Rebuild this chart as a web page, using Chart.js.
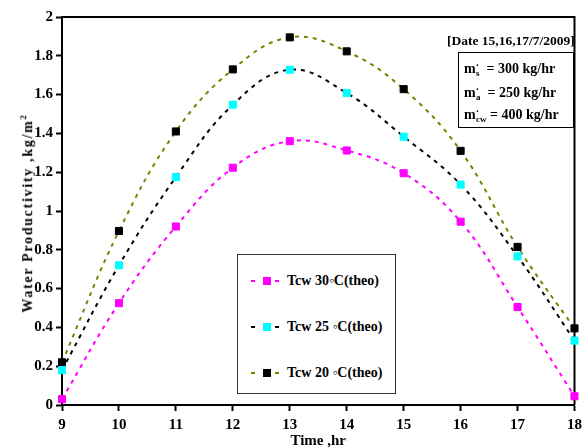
<!DOCTYPE html>
<html>
<head>
<meta charset="utf-8">
<script src="https://cdn.jsdelivr.net/npm/chart.js@4.4.0/dist/chart.umd.min.js"></script>
<style>
body { margin: 0; overflow: hidden; background: #fff; }
#wrap { position: relative; width: 587px; height: 460px; }
.t { position: absolute; font-family: "Liberation Serif", "Times New Roman", serif; font-weight: bold; color: #000; white-space: nowrap; line-height: 1; }
#ytitle { left: 27px; top: 213px; font-size: 14px; letter-spacing: 1.7px; transform: translate(-50%, -50%) rotate(-90deg); }
#ytitle sup { font-size: 9px; }
#legend { position: absolute; left: 237px; top: 254px; width: 159px; height: 140px; border: 1.5px solid #333; box-sizing: border-box; background: #fff; }
.row { position: absolute; left: 0; width: 100%; height: 20px; }
.d { position: absolute; top: 9px; width: 4px; height: 2px; }
.sq { position: absolute; top: 6px; left: 25px; width: 8px; height: 8px; }
.row .t { left: 49px; top: 3px; font-size: 14px; }
#date { left: 447px; top: 34px; font-size: 13.5px; }
#box { position: absolute; left: 458px; top: 52px; width: 116px; height: 76px; border: 1.5px solid #000; box-sizing: border-box; background: #fff; }
#box .t { left: 5px; font-size: 14px; }
#box sup { font-size: 10px; vertical-align: 4px; }
#box sub { font-size: 9px; vertical-align: -3px; margin-left: -3px; }
</style>
</head>
<body>
<div id="wrap">
  <canvas id="grafico"></canvas>
  <div class="t" id="ytitle">Water Productivity ,kg/m<sup>2</sup></div>
  <div id="legend"></div>
  <div class="t" id="date">[Date 15,16,17/7/2009]</div>
  <div id="box">
    <div class="t" style="top:8px">m<sup>·</sup><sub>s</sub>&nbsp; = 300 kg/hr</div>
    <div class="t" style="top:32px">m<sup>·</sup><sub>a</sub>&nbsp; = 250 kg/hr</div>
    <div class="t" style="top:54px">m<sup>·</sup><sub>cw</sub> = 400 kg/hr</div>
  </div>
</div>
<script>
// Productividad de agua - curvas teoricas
var horas = [9, 10, 11, 12, 13, 14, 15, 16, 17, 18];
var tcw30 = [0.03, 0.525, 0.92, 1.223, 1.36, 1.312, 1.195, 0.945, 0.505, 0.045];
var tcw25 = [0.18, 0.72, 1.175, 1.548, 1.728, 1.608, 1.383, 1.136, 0.766, 0.332];
var tcw20 = [0.22, 0.897, 1.41, 1.73, 1.895, 1.823, 1.628, 1.31, 0.815, 0.395];
var etiquetas = ['Tcw 30\u25E6C(theo)', 'Tcw 25 \u25E6C(theo)', 'Tcw 20 \u25E6C(theo)'];

var fuente = 'Liberation Serif';

function puntos(valores) {
    return horas.map(function (h, i) { return { x: h, y: valores[i] }; });
}

function serie(label, valores, colorLinea, colorPunto) {
    return {
        label: label,
        data: puntos(valores),
        borderColor: colorLinea,
        borderWidth: 2,
        borderDash: [4, 5],
        tension: 0.4,
        pointStyle: 'rect',
        pointRadius: 5,
        pointBorderWidth: 1,
        pointBackgroundColor: colorPunto,
        pointBorderColor: colorPunto,
        fill: false,
        clip: false
    };
}

var series = [
    serie(etiquetas[0], tcw30, '#ff00ff', '#ff00ff'),
    serie(etiquetas[1], tcw25, '#000000', '#00ffff'),
    serie(etiquetas[2], tcw20, '#7f7f00', '#000000')
];

// leyenda dentro del grafico
var leyenda = document.getElementById('legend');
var filasY = [16, 62, 108];
series.forEach(function (s, i) {
    var fila = document.createElement('div');
    fila.className = 'row';
    fila.style.top = filasY[i] + 'px';
    fila.innerHTML = '<span class="d" style="left:13px;background:' + s.borderColor + '"></span>' +
        '<span class="sq" style="background:' + s.pointBackgroundColor + '"></span>' +
        '<span class="d" style="left:37px;background:' + s.borderColor + '"></span>' +
        '<span class="t">' + s.label + '</span>';
    leyenda.appendChild(fila);
});

// marco superior y derecho
var marco = {
    id: 'marco',
    beforeDatasetsDraw: function (chart) {
        var a = chart.chartArea, ctx = chart.ctx;
        ctx.save();
        ctx.strokeStyle = '#000';
        ctx.lineWidth = 2;
        ctx.beginPath();
        ctx.moveTo(a.left, a.top);
        ctx.lineTo(a.right, a.top);
        ctx.lineTo(a.right, a.bottom);
        ctx.stroke();
        ctx.restore();
    }
};

var ctx = document.getElementById('grafico').getContext('2d');
var myChart = new Chart(ctx, {
    type: 'line',
    data: { datasets: series },
    options: {
        responsive: true,
        maintainAspectRatio: false,
        animation: false,
        layout: { padding: { top: 17, right: 7, left: 0, bottom: 0 } },
        plugins: { legend: { display: false }, tooltip: { enabled: false } },
        scales: {
            x: {
                type: 'linear',
                min: 9,
                max: 18,
                ticks: { stepSize: 1, color: '#000', padding: 5, font: { family: fuente, weight: 'bold', size: 15 } },
                grid: { drawOnChartArea: false, tickLength: 6, tickColor: '#000', tickWidth: 2 },
                border: { color: '#000', width: 2 },
                title: { display: true, text: 'Time ,hr', color: '#000', padding: { top: 0, bottom: 10 }, font: { family: fuente, weight: 'bold', size: 15 } },
                afterFit: function (scale) { scale.height = 55; }
            },
            y: {
                min: 0,
                max: 2,
                ticks: {
                    stepSize: 0.2, color: '#000', padding: 3, font: { family: fuente, weight: 'bold', size: 15 },
                    callback: function (v) { return String(Math.round(v * 10) / 10); }
                },
                grid: { drawOnChartArea: false, tickLength: 6, tickColor: '#000', tickWidth: 2 },
                border: { color: '#000', width: 2 },
                afterFit: function (scale) { scale.width = 62; }
            }
        }
    },
    plugins: [marco]
});
</script>
</body>
</html>
